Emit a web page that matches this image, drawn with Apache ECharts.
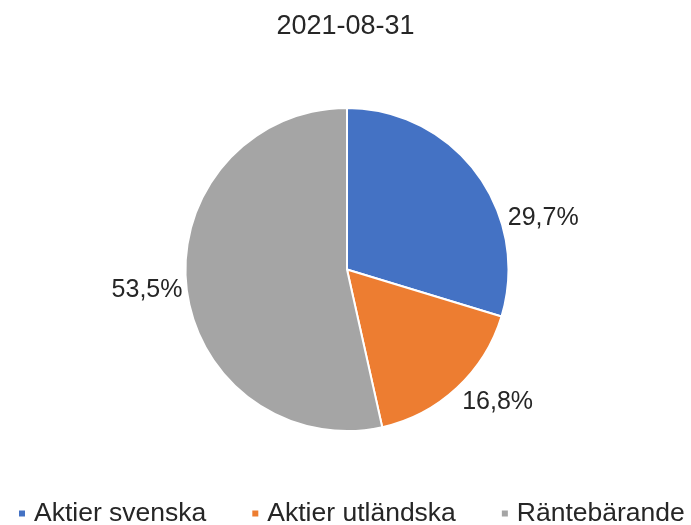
<!DOCTYPE html>
<html><head><meta charset="utf-8">
<script src="https://cdn.jsdelivr.net/npm/echarts@6/dist/echarts.min.js"></script>
<style>html,body{margin:0;padding:0;background:#fff}#c{width:691px;height:525px}</style>
</head><body><div id="c"></div>
<script>
const title = '2021-08-31';
const categories = ['Aktier svenska', 'Aktier utländska', 'Räntebärande'];
const values = [29.7, 16.8, 53.5];
const colors = ['#4472C4', '#ED7D31', '#A5A5A5'];
const labelShift = [[22, 48], [-3, 11], [6, 2]];

const chart = echarts.init(document.getElementById('c'), null, {renderer: 'canvas'});
chart.setOption({
  animation: false,
  title: {text: title, left: 'center', top: 8,
    textStyle: {fontFamily: 'Liberation Sans', fontSize: 27, fontWeight: 'normal', color: '#262626'}},
  legend: {
    data: categories, top: 500, left: 17, width: 674, padding: 0, icon: 'rect', itemWidth: 8, itemHeight: 8, itemGap: 44,
    textStyle: {fontFamily: 'Liberation Sans', fontSize: 26.5, color: '#262626', padding: [0, 0, 0, 3]}
  },
  series: [{
    type: 'pie', center: [347, 269.5], radius: 161.5, startAngle: 90, clockwise: true,
    avoidLabelOverlap: false,
    itemStyle: {borderColor: '#fff', borderWidth: 2},
    label: {show: true, position: 'outside', fontFamily: 'Liberation Sans', fontSize: 25, color: '#262626',
      formatter: p => p.value.toFixed(1).replace('.', ',') + '%'},
    labelLine: {show: false, length: 5, length2: 0},
    labelLayout: p => ({dx: labelShift[p.dataIndex][0], dy: labelShift[p.dataIndex][1]}),
    data: categories.map((n, i) => ({name: n, value: values[i], itemStyle: {color: colors[i]}}))
  }]
});
</script></body></html>
